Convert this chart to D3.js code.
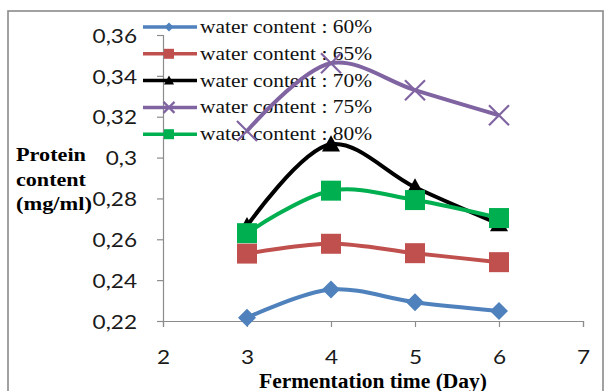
<!DOCTYPE html>
<html>
<head>
<meta charset="utf-8">
<script src="https://cdn.jsdelivr.net/npm/d3@7"></script>
<style>
  body { margin: 0; background: #fff; }
  svg { display: block; }
</style>
</head>
<body>
<script>
// values
const days = [3, 4, 5, 6]
const wc60 = [0.2216, 0.2354, 0.2292, 0.2249]
const wc65 = [0.2530, 0.2578, 0.2532, 0.2488]
const wc70 = [0.2665, 0.3065, 0.2855, 0.2675]
const wc75 = [0.3130, 0.3462, 0.3330, 0.3207]
const wc80 = [0.2630, 0.2838, 0.2792, 0.2704]
const seriesNames = ['water content : 60%', 'water content : 65%', 'water content : 70%', 'water content : 75%', 'water content : 80%']
const xTicks = [2, 3, 4, 5, 6, 7]
const yTicks = [0.22, 0.24, 0.26, 0.28, 0.30, 0.32, 0.34, 0.36]
const yTickLabels = ['0,22', '0,24', '0,26', '0,28', '0,3', '0,32', '0,34', '0,36']

const w = 605
const h = 391

const series = [
    { name: seriesNames[0], values: wc60, color: '#4F81BD', marker: 'diamond' },
    { name: seriesNames[1], values: wc65, color: '#C0504D', marker: 'square' },
    { name: seriesNames[2], values: wc70, color: '#000000', marker: 'triangle' },
    { name: seriesNames[3], values: wc75, color: '#8064A2', marker: 'cross' },
    { name: seriesNames[4], values: wc80, color: '#00B050', marker: 'square' }
]

const svg = d3.select('body')
    .append('svg')
    .attr('width', w)
    .attr('height', h)

// chart frame
svg.append('rect')
    .attr('x', 8)
    .attr('y', 11)
    .attr('width', 595)
    .attr('height', 400)
    .attr('fill', 'none')
    .attr('stroke', '#8a8a8a')
    .attr('stroke-width', 1.6)

const x = d3.scaleLinear()
    .domain([2, 7])
    .range([163, 583])

const y = d3.scaleLinear()
    .domain([0.22, 0.36])
    .range([321, 35])

const labelFont = 'Lato, "Open Sans", sans-serif'
const serif = '"Liberation Serif", "Times New Roman", serif'
const stretch = 1.13

const xAxis = d3.axisBottom(x)
    .tickValues(xTicks)
    .tickSize(6)
    .tickFormat(d3.format('d'))

const yAxis = d3.axisLeft(y)
    .tickValues(yTicks)
    .tickSize(6)
    .tickFormat((d, i) => yTickLabels[i])

const gx = svg.append('g')
    .attr('id', 'x-axis')
    .attr('transform', `translate(0, ${y(0.22)})`)
    .call(xAxis)

const gy = svg.append('g')
    .attr('id', 'y-axis')
    .attr('transform', `translate(${x(2)}, 0)`)
    .call(yAxis)

for (const g of [gx, gy]) {
    g.select('.domain').attr('stroke', '#8c8c8c').attr('stroke-width', 1.2)
    g.selectAll('.tick line').attr('stroke', '#8c8c8c').attr('stroke-width', 1.2)
    g.selectAll('.tick text')
        .attr('font-family', labelFont)
        .attr('font-size', 20)
        .attr('fill', '#1a1a1a')
}

gx.selectAll('.tick text')
    .attr('y', 43)
    .attr('dy', 0)
    .attr('transform', `scale(${stretch},1)`)

gy.selectAll('.tick text')
    .attr('x', -26 / stretch)
    .attr('dy', '0.36em')
    .attr('transform', `scale(${stretch},1)`)

// axis titles
const yTitle = ['Protein', 'content', '(mg/ml)']
const yTitleWidth = [70, 70, 76]
svg.append('g')
    .selectAll('text')
    .data(yTitle)
    .enter()
    .append('text')
    .attr('x', 16)
    .attr('y', (d, i) => 161 + i * 24.5)
    .attr('font-family', serif)
    .attr('font-weight', 'bold')
    .attr('font-size', 19.5)
    .attr('textLength', (d, i) => yTitleWidth[i])
    .attr('lengthAdjust', 'spacingAndGlyphs')
    .text(d => d)

svg.append('text')
    .attr('x', 259)
    .attr('y', 388)
    .attr('font-family', serif)
    .attr('font-weight', 'bold')
    .attr('font-size', 20)
    .attr('textLength', 228)
    .attr('lengthAdjust', 'spacingAndGlyphs')
    .text('Fermentation time (Day)')

// marker shapes, centred on 0,0
function markerPath(type, s) {
    const p = d3.path()
    if (type === 'diamond') {
        p.moveTo(0, -s); p.lineTo(s, 0); p.lineTo(0, s); p.lineTo(-s, 0); p.closePath()
    } else if (type === 'square') {
        p.rect(-s, -s, 2 * s, 2 * s)
    } else if (type === 'triangle') {
        p.moveTo(0, -s); p.lineTo(s, s * 0.8); p.lineTo(-s, s * 0.8); p.closePath()
    } else {
        p.moveTo(-s, -s); p.lineTo(s, s); p.moveTo(s, -s); p.lineTo(-s, s)
    }
    return p.toString()
}

function drawMarker(g, d, s) {
    const m = g.append('path').attr('d', markerPath(d.marker, s))
    if (d.marker === 'cross') {
        m.attr('fill', 'none').attr('stroke', d.color).attr('stroke-width', 2.2)
    } else {
        m.attr('fill', d.color)
    }
}

// legend (drawn under the series)
const legend = svg.append('g')
    .selectAll('g')
    .data(series)
    .enter()
    .append('g')
    .attr('transform', (d, i) => `translate(0, ${27 + i * 26.8})`)

legend.append('line')
    .attr('x1', 143)
    .attr('x2', 197)
    .attr('stroke', d => d.color)
    .attr('stroke-width', 3.5)

legend.each(function (d) {
    const g = d3.select(this).append('g').attr('transform', 'translate(169, 0)')
    const size = { diamond: 4.5, square: 5, triangle: 5, cross: 5.5 }[d.marker]
    drawMarker(g, d, size)
})

legend.append('text')
    .attr('x', 200)
    .attr('y', 6)
    .attr('font-family', serif)
    .attr('font-size', 18)
    .attr('textLength', 172)
    .attr('lengthAdjust', 'spacingAndGlyphs')
    .attr('fill', '#111')
    .text(d => d.name)

// series
const line = d3.line()
    .x(d => x(d.day))
    .y(d => y(d.value))
    .curve(d3.curveCatmullRom.alpha(0.5))

const markerSize = { diamond: 9, square: 10, triangle: 9, cross: 10 }

series.forEach(s => {
    const pts = days.map((day, i) => ({ day: day, value: s.values[i] }))
    const g = svg.append('g')

    g.append('path')
        .datum(pts)
        .attr('d', line)
        .attr('fill', 'none')
        .attr('stroke', s.color)
        .attr('stroke-width', 4)

    g.selectAll('g.pt')
        .data(pts)
        .enter()
        .append('g')
        .attr('class', 'pt')
        .attr('transform', d => `translate(${x(d.day)}, ${y(d.value)})`)
        .each(function () { drawMarker(d3.select(this), s, markerSize[s.marker]) })
})
</script>
</body>
</html>
